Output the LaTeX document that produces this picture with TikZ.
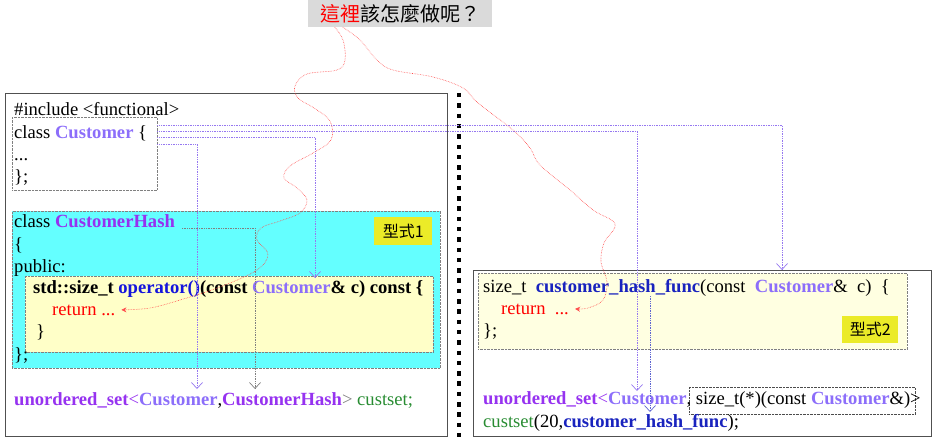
\documentclass[tikz,border=0pt]{standalone}
\usepackage{fontspec}
\setmainfont{Liberation Serif}
\newfontfamily\cjkfont{Noto Sans CJK TC}
\usetikzlibrary{arrows.meta}

\definecolor{hashpurple}{RGB}{150,50,240}
\definecolor{custviolet}{RGB}{140,110,250}
\definecolor{opblue}{RGB}{20,20,220}
\definecolor{funcblue}{RGB}{25,35,190}
\definecolor{setgreen}{RGB}{40,140,50}
\definecolor{boxcyan}{RGB}{100,255,255}
\definecolor{codeyellow}{RGB}{255,255,200}
\definecolor{paleyellow}{RGB}{255,255,225}
\definecolor{tagyellow}{RGB}{235,235,40}
\definecolor{linkpurple}{RGB}{150,120,240}
\definecolor{titlegray}{RGB}{218,218,218}
\definecolor{framegray}{RGB}{80,80,80}

\tikzset{
  code/.style={anchor=base west, inner sep=0pt, font=\fontsize{18.6}{22}\selectfont},
  area/.style={anchor=north west, inner sep=0pt, draw=gray, densely dotted},
  tag/.style={anchor=north west, inner sep=0pt, fill=tagyellow, font=\cjkfont\fontsize{16}{18}\selectfont},
  link/.style={draw=linkpurple, densely dotted, line width=0.7pt, -{Straight Barb[length=6pt, width=11pt]}},
  hint/.style={draw=red!70, densely dotted, line width=0.6pt, -{Stealth[length=5pt, width=5pt]}}
}

\begin{document}
\begin{tikzpicture}[x=1pt, y=-1pt]
  \useasboundingbox (0,0) rectangle (936,441);
  % question on top
  \node[fill=titlegray, minimum width=184pt, minimum height=27pt, inner sep=0pt,
        font=\cjkfont\fontsize{20}{24}\selectfont] (title) at (400,13.5)
        {\textcolor{red}{這裡}該怎麼做呢？};

  % left side: function object
  \draw[framegray, line width=0.9pt] (5,93) rectangle (447,436);
  \node[area, minimum width=145pt, minimum height=73pt] (custbox) at (12,117) {};
  \node[area, fill=boxcyan, minimum width=428pt, minimum height=157pt] (hashbox) at (12,211) {};
  \node[area, fill=codeyellow, minimum width=408pt, minimum height=76pt] (opbox) at (25,276) {};
  \node[tag, minimum width=58pt, minimum height=28pt] (tagA) at (374,217) {型式1};

  \node[code] (incl) at (14,115) {\#include <functional>};
  \node[code] (clsA) at (14,138) {class \textbf{\textcolor{custviolet}{Customer}} \{};
  \node[code] (dotsA) at (14,160) {...};
  \node[code] (endA) at (14,182) {\};};
  \node[code] (clsB) at (14,227) {class \textbf{\textcolor{hashpurple}{CustomerHash}}};
  \node[code] (openB) at (14,250) {\{};
  \node[code] (pubB) at (14,272) {public:};
  \node[code] (opB) at (33,293) {\textbf{std::size\_t \textcolor{opblue}{operator()}(const \textcolor{custviolet}{Customer}\& c) const \{}};
  \node[code, text=red] (retA) at (52,315) {return ...};
  \node[code] (closeB) at (36,337) {\}};
  \node[code] (endB) at (14,360) {\};};
  \node[code] (setA) at (14,405) {\textbf{\textcolor{hashpurple}{unordered\_set}}\textcolor{hashpurple}{<}\textbf{\textcolor{custviolet}{Customer}},\textbf{\textcolor{hashpurple}{CustomerHash}}\textcolor{gray}{>} \textcolor{setgreen}{custset;}};

  % separator
  \draw[line width=4.5pt, dash pattern=on 4.5pt off 5.8pt] (459,93) -- (459,441);

  % right side: function pointer
  \draw[framegray, line width=0.9pt] (473,270) rectangle (931,436);
  \node[area, fill=paleyellow, minimum width=429pt, minimum height=76pt] (funcbox) at (478,273) {};
  \node[tag, minimum width=56pt, minimum height=27pt] (tagB) at (842,316) {型式2};
  \node[area, draw=black!70, minimum width=226pt, minimum height=27pt] (ptrbox) at (689,387) {};

  \node[code] (funcC) at (483,292) {size\_t\ \ \textbf{\textcolor{funcblue}{customer\_hash\_func}}(const\ \ \textcolor{custviolet}{\textbf{Customer}}\&\ \ c)\ \ \{};
  \node[code, text=red] (retC) at (501,314) {return\ \ ...};
  \node[code] (endC) at (483,336) {\};};
  \node[code] (setC) at (483,404) {\textbf{\textcolor{hashpurple}{unordered\_set}}\textcolor{hashpurple}{<}\textbf{\textcolor{custviolet}{Customer}}, size\_t(*)(const \textbf{\textcolor{custviolet}{Customer}}\&)>};
  \node[code] (ctorC) at (483,427) {\textcolor{setgreen}{custset}(20,\textbf{\textcolor{funcblue}{customer\_hash\_func}});};

  % arrow targets
  \coordinate (toFunc) at (782,270);
  \coordinate (toSetC) at (637,391);
  \coordinate (toOp) at (315,278);
  \coordinate (toSetA) at (197,389);
  \coordinate (toHash) at (255,389);
  \coordinate (fromHash) at (182,228);
  \coordinate (fromFunc) at (650,296);
  \coordinate (toCtor) at (650,412);

  % Customer used everywhere
  \draw[link] ([yshift=-8pt]custbox.north east) -| (toFunc);
  \draw[link] ([yshift=-14pt]custbox.north east) -| (toSetC);
  \draw[link] ([yshift=-20pt]custbox.north east) -| (toOp);
  \draw[link] ([yshift=-27pt]custbox.north east) -| (toSetA);
  \draw[link, draw=gray] (fromHash) -| (toHash);
  \draw[link, draw=funcblue!70] (fromFunc) -- (toCtor);

  % "here" hints
  \draw[hint] plot[smooth, tension=0.6] coordinates {([xshift=27pt]title.south west) (343,40) (345,60) (337,70) (307,74) (295,86) (298,98) (314,108) (330,121) (331,140) (313,153) (290,166) (284,178) (297,188) (307,200) (300,213) (280,221) (261,228) (257,240) (268,254) (257,270) (220,287) (180,300) (150,308) ([xshift=6pt]retA.east)};
  \draw[hint] plot[smooth, tension=0.6] coordinates {([xshift=35pt]title.south west) (360,40) (377,60) (393,70) (433,77) (463,88) (478,103) (513,130) (530,148) (540,165) (570,190) (593,210) (615,224) (604,243) (601,262) (607,282) (603,300) (588,308) ([xshift=6pt]retC.east)};
\end{tikzpicture}
\end{document}
